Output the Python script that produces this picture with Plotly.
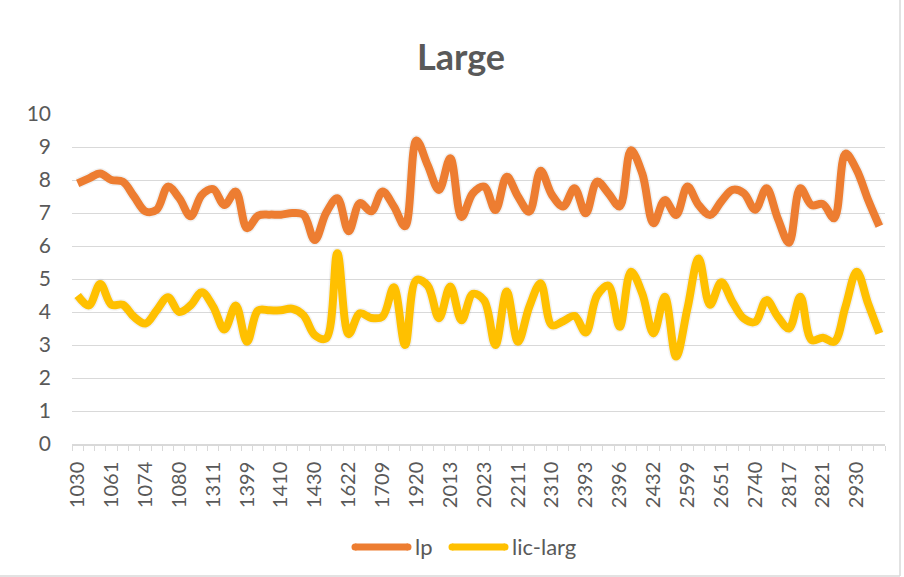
import plotly.graph_objects as go

# Category labels along the x axis (every third one is printed)
categories = [
    "1030", "1042", "1055", "1061", "1066", "1070", "1074", "1076", "1078",
    "1080", "1150", "1240", "1311", "1340", "1372", "1399", "1403", "1407",
    "1410", "1416", "1423", "1430", "1495", "1560", "1622", "1650", "1681",
    "1709", "1780", "1850", "1920", "1952", "1985", "2013", "2016", "2020",
    "2023", "2085", "2150", "2211", "2244", "2277", "2310", "2338", "2365",
    "2393", "2394", "2395", "2396", "2408", "2420", "2432", "2488", "2544",
    "2599", "2616", "2634", "2651", "2681", "2710", "2740", "2766", "2791",
    "2817", "2818", "2820", "2821", "2858", "2894", "2930", "2962", "2995",
]

lp = [
    7.9, 8.05, 8.2, 8.0, 7.95, 7.5, 7.05, 7.1, 7.8, 7.45, 6.9, 7.55,
    7.72, 7.24, 7.65, 6.54, 6.92, 6.95, 6.95, 7.0, 6.95, 6.18, 7.0, 7.45,
    6.45, 7.3, 7.05, 7.65, 7.2, 6.6, 9.2, 8.45, 7.7, 8.66, 6.88, 7.6,
    7.8, 7.09, 8.1, 7.5, 7.04, 8.28, 7.55, 7.2, 7.75, 6.99, 7.95, 7.6,
    7.2, 8.9, 8.2, 6.69, 7.39, 6.94, 7.8, 7.24, 6.94, 7.35, 7.7, 7.6,
    7.1, 7.75, 6.84, 6.1, 7.75, 7.24, 7.27, 6.84, 8.8, 8.3, 7.4, 6.6,
]

lic_larg = [
    4.5, 4.2, 4.85, 4.22, 4.22, 3.85, 3.65, 4.05, 4.45, 4.0, 4.2, 4.6,
    4.16, 3.47, 4.2, 3.1, 4.05, 4.05, 4.05, 4.1, 3.9, 3.3, 3.2, 5.78,
    3.33, 3.96, 3.82, 3.86, 4.75, 3.0, 4.97, 4.8, 3.81, 4.77, 3.75, 4.55,
    4.35, 3.0, 4.62, 3.1, 4.16, 4.87, 3.6, 3.72, 3.88, 3.38, 4.5, 4.8,
    3.55, 5.22, 4.56, 3.35, 4.46, 2.65, 4.1, 5.62, 4.22, 4.9, 4.3, 3.8,
    3.7, 4.36, 3.86, 3.5, 4.46, 3.15, 3.22, 3.1, 4.16, 5.22, 4.26, 3.35,
]

y_ticks = list(range(0, 11))

positions = list(range(len(categories)))
label_step = 3

TEXT = "#595959"
GRID = "#D9D9D9"
FONT = "Lato, 'Open Sans', sans-serif"

# plot-area geometry in pixels (used to place legend keys below the axis)
W, H = 904, 577
ML, MR, MT, MB = 72, 19, 114, 133
PW, PH = W - ML - MR, H - MT - MB


def px_x(px):
    return (px - ML) / PW


def px_y(py):
    return (H - MB - py) / PH


fig = go.Figure()

series = [("lp", lp, "#ED7D31"), ("lic-larg", lic_larg, "#FFC000")]

# faint shadow under each line
for name, vals, _ in series:
    fig.add_trace(go.Scatter(
        x=positions, y=vals, mode="lines",
        line=dict(color="rgba(0,0,0,0.05)", width=11, shape="spline", smoothing=1),
        showlegend=False, hoverinfo="skip",
    ))

for name, vals, color in series:
    fig.add_trace(go.Scatter(
        x=positions, y=vals, name=name, mode="lines",
        customdata=categories,
        hovertemplate="%{customdata}: %{y}<extra>" + name + "</extra>",
        line=dict(color=color, width=8, shape="spline", smoothing=1),
        showlegend=False,
    ))

fig.update_layout(
    width=W, height=H,
    autosize=False,
    margin=dict(l=ML, r=MR, t=MT, b=MB, autoexpand=False),
    paper_bgcolor="white", plot_bgcolor="white",
    font=dict(family=FONT, color=TEXT, size=20),
    title=dict(
        text="<b>Large</b>", x=0.51, xref="container", xanchor="center",
        y=0.9, yref="container", yanchor="middle",
        font=dict(size=36, color=TEXT, family=FONT),
    ),
    xaxis=dict(
        range=[-0.5, len(categories) - 0.5],
        tickmode="array",
        tickvals=positions[::label_step],
        ticktext=categories[::label_step],
        tickangle=-90,
        ticks="", ticklabelstandoff=8,
        showgrid=False, zeroline=False,
        showline=True, linecolor=GRID, linewidth=1.5,
        minor=dict(tick0=-0.5, dtick=1, ticks="outside", ticklen=5,
                   tickcolor=GRID, tickwidth=1, showgrid=False),
        tickfont=dict(size=20, color=TEXT),
    ),
    yaxis=dict(
        range=[0, 10],
        tickmode="array", tickvals=y_ticks,
        ticks="", ticklabelstandoff=20,
        showgrid=True, gridcolor=GRID, gridwidth=1,
        zeroline=False, showline=False,
        tickfont=dict(size=21, color=TEXT),
    ),
)

# legend keys: long rounded line samples followed by the series name
legend_y = 547
legend_items = [(355, 408, 413), (452, 505, 510)]
for (name, _, color), (lx0, lx1, tx) in zip(series, legend_items):
    fig.add_shape(type="line", xref="paper", yref="paper",
                  x0=px_x(lx0), x1=px_x(lx1), y0=px_y(legend_y), y1=px_y(legend_y),
                  line=dict(color=color, width=7))
    for cx in (lx0, lx1):
        fig.add_shape(type="circle", xref="paper", yref="paper",
                      x0=px_x(cx - 3.5), x1=px_x(cx + 3.5),
                      y0=px_y(legend_y + 3.5), y1=px_y(legend_y - 3.5),
                      fillcolor=color, line=dict(width=0))
    fig.add_annotation(text=name, xref="paper", yref="paper",
                       x=px_x(tx), y=px_y(legend_y - 1), xanchor="left", yanchor="middle",
                       showarrow=False, font=dict(size=22, color=TEXT, family=FONT))

# chart-area border on the right and bottom edges
fig.add_shape(type="line", xref="paper", yref="paper",
              x0=px_x(900), x1=px_x(900), y0=px_y(576), y1=px_y(0),
              line=dict(color=GRID, width=1.5))
fig.add_shape(type="line", xref="paper", yref="paper",
              x0=px_x(0), x1=px_x(900), y0=px_y(576), y1=px_y(576),
              line=dict(color=GRID, width=1.5))

fig.write_html("out.html")
